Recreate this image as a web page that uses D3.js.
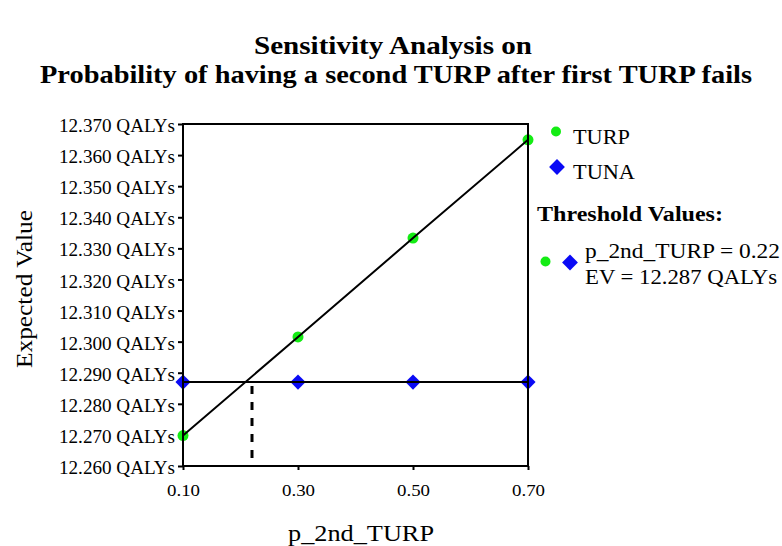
<!DOCTYPE html>
<html><head><meta charset="utf-8">
<script src="https://cdn.jsdelivr.net/npm/d3@7"></script>
<style>body{margin:0;background:#fff}svg{display:block}text{font-family:"Liberation Serif","Times New Roman",serif;fill:#000}</style>
</head><body>
<svg id="c" width="782" height="546"></svg>
<script>
const xValues = [0.10, 0.30, 0.50, 0.70];
const turpValues = [12.2698, 12.3015, 12.3333, 12.3649];
const tunaValues = [12.287, 12.287, 12.287, 12.287];
const yTicks = [12.26, 12.27, 12.28, 12.29, 12.30, 12.31, 12.32, 12.33, 12.34, 12.35, 12.36, 12.37];
const xTicks = [0.10, 0.30, 0.50, 0.70];
const thresholdX = 0.22;
const thresholdEV = 12.287;
const seriesNames = ["TURP", "TUNA"];

const svg = d3.select("#c");
const L = 183, R = 528, T = 124, B = 466;
const x = d3.scaleLinear().domain([0.10, 0.70]).range([L, R]);
const y = d3.scaleLinear().domain([12.26, 12.37]).range([B, T]);
const green = "#14ec14", blue = "#0a0af5";

// titles
svg.append("text").attr("x", 393).attr("y", 54).attr("text-anchor", "middle")
  .attr("font-size", 25).attr("font-weight", "bold")
  .attr("textLength", 278).attr("lengthAdjust", "spacingAndGlyphs")
  .text("Sensitivity Analysis on");
svg.append("text").attr("x", 396).attr("y", 83).attr("text-anchor", "middle")
  .attr("font-size", 25).attr("font-weight", "bold")
  .attr("textLength", 712).attr("lengthAdjust", "spacingAndGlyphs")
  .text("Probability of having a second TURP after first TURP fails");

// axes
const ya = svg.append("g").attr("transform", `translate(${L},0)`)
  .call(d3.axisLeft(y).tickValues(yTicks).tickSize(5).tickSizeOuter(0).tickPadding(3)
    .tickFormat(d => d3.format(".3f")(d) + " QALYs"));
ya.selectAll("text").attr("font-size", 18).attr("font-family", "Liberation Serif")
  .attr("dy", "0.42em").attr("textLength", 116).attr("lengthAdjust", "spacingAndGlyphs");
ya.selectAll("line").attr("stroke", "#000").attr("stroke-width", 2);
ya.select(".domain").remove();

const xa = svg.append("g").attr("transform", `translate(0,${B})`)
  .call(d3.axisBottom(x).tickValues(xTicks).tickSize(4).tickSizeOuter(0).tickPadding(14)
    .tickFormat(d3.format(".2f")));
xa.selectAll("text").attr("font-size", 17).attr("font-family", "Liberation Serif")
  .attr("textLength", 33).attr("lengthAdjust", "spacingAndGlyphs");
xa.selectAll("line").attr("stroke", "#000").attr("stroke-width", 2);
xa.select(".domain").remove();

// axis titles
svg.append("text").attr("x", 361).attr("y", 541).attr("text-anchor", "middle")
  .attr("font-size", 23).attr("textLength", 146).attr("lengthAdjust", "spacingAndGlyphs").text("p_2nd_TURP");
svg.append("text").attr("transform", "translate(32,289) rotate(-90)").attr("text-anchor", "middle")
  .attr("font-size", 23).attr("textLength", 158).attr("lengthAdjust", "spacingAndGlyphs").text("Expected Value");

// markers
const diamond = d3.symbol().type(d3.symbolSquare).size(115);
svg.append("g").selectAll("circle").data(xValues).join("circle")
  .attr("cx", (d) => x(d)).attr("cy", (d, i) => y(turpValues[i])).attr("r", 5.5).attr("fill", green);
svg.append("g").selectAll("path").data(xValues).join("path")
  .attr("d", diamond).attr("fill", blue)
  .attr("transform", (d, i) => `translate(${x(d)},${y(tunaValues[i])}) rotate(45)`);

// lines
const line = d3.line().x(d => x(d[0])).y(d => y(d[1]));
svg.append("path").datum(xValues.map((d, i) => [d, turpValues[i]])).attr("d", line)
  .attr("fill", "none").attr("stroke", "#000").attr("stroke-width", 2);
svg.append("path").datum(xValues.map((d, i) => [d, tunaValues[i]])).attr("d", line)
  .attr("fill", "none").attr("stroke", "#000").attr("stroke-width", 2);

// threshold dashed line
svg.append("line").attr("x1", x(thresholdX)).attr("x2", x(thresholdX))
  .attr("y1", y(thresholdEV)).attr("y2", B)
  .attr("stroke", "#000").attr("stroke-width", 3).attr("stroke-dasharray", "0,4,8,4");

// frame
svg.append("rect").attr("x", L).attr("y", T).attr("width", R - L).attr("height", B - T)
  .attr("fill", "none").attr("stroke", "#000").attr("stroke-width", 2);

// legend
const lgDiamond = d3.symbol().type(d3.symbolSquare).size(125);
const lg = svg.append("g");
lg.append("circle").attr("cx", 556).attr("cy", 131.5).attr("r", 5).attr("fill", green);
lg.append("text").attr("x", 573).attr("y", 144).attr("font-size", 22)
  .attr("textLength", 57).attr("lengthAdjust", "spacingAndGlyphs").text(seriesNames[0]);
lg.append("path").attr("d", lgDiamond).attr("fill", blue)
  .attr("transform", "translate(557,167) rotate(45)");
lg.append("text").attr("x", 573).attr("y", 179).attr("font-size", 22)
  .attr("textLength", 62).attr("lengthAdjust", "spacingAndGlyphs").text(seriesNames[1]);
lg.append("text").attr("x", 537).attr("y", 221).attr("font-size", 20.5).attr("font-weight", "bold")
  .attr("textLength", 186).attr("lengthAdjust", "spacingAndGlyphs").text("Threshold Values:");
lg.append("circle").attr("cx", 545.5).attr("cy", 261.5).attr("r", 5).attr("fill", green);
lg.append("path").attr("d", lgDiamond).attr("fill", blue)
  .attr("transform", "translate(570,262.5) rotate(45)");
lg.append("text").attr("x", 585).attr("y", 258).attr("font-size", 20.5)
  .attr("textLength", 195).attr("lengthAdjust", "spacingAndGlyphs")
  .text("p_2nd_TURP = " + d3.format(".2f")(thresholdX));
lg.append("text").attr("x", 585).attr("y", 284).attr("font-size", 20.5)
  .attr("textLength", 192).attr("lengthAdjust", "spacingAndGlyphs")
  .text("EV = " + d3.format(".3f")(thresholdEV) + " QALYs");
</script>
</body></html>
